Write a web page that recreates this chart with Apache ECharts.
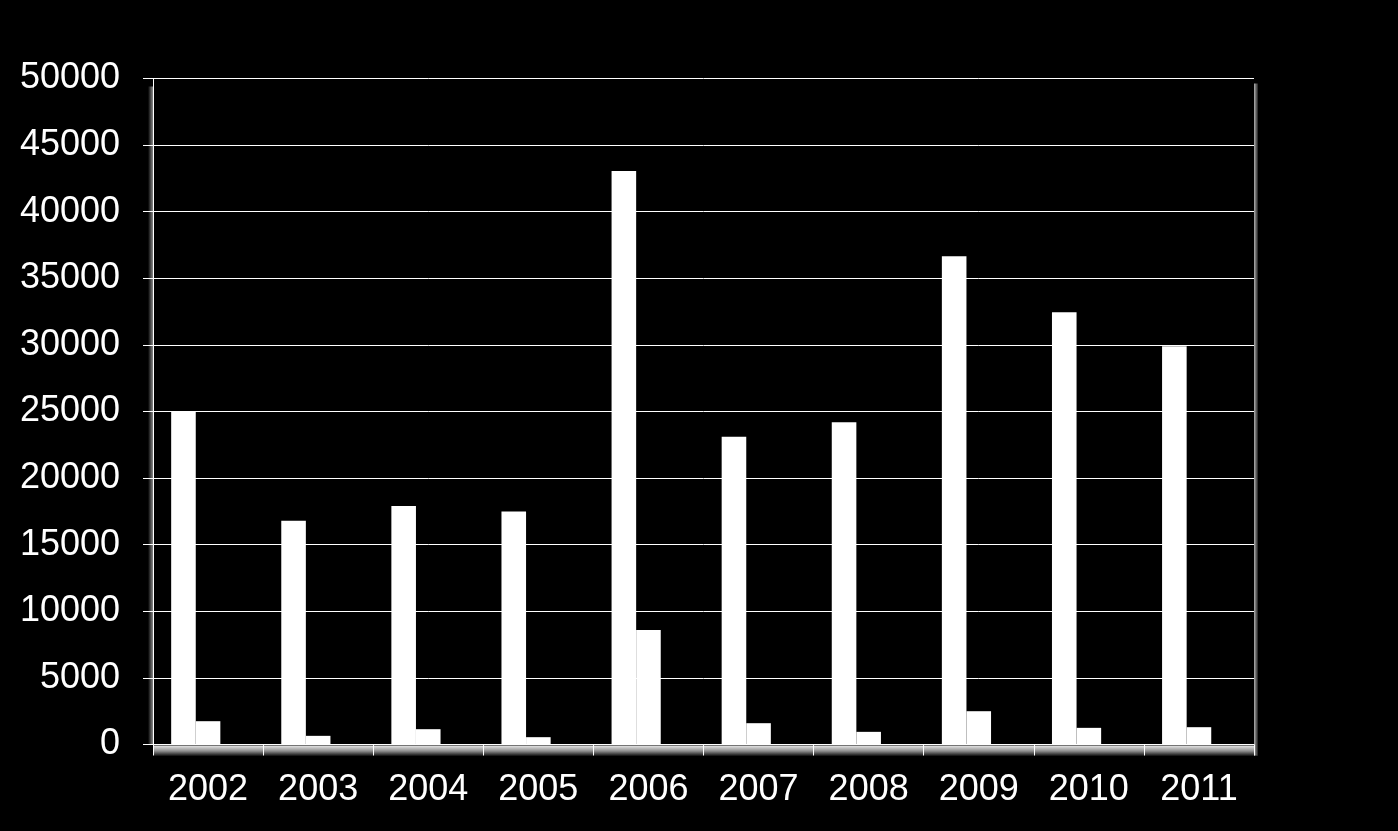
<!DOCTYPE html>
<html>
<head>
<meta charset="utf-8">
<script src="https://cdn.jsdelivr.net/npm/echarts@6/dist/echarts.min.js"></script>
<style>
html,body{margin:0;padding:0;background:#000;}
#chart{width:1398px;height:831px;}
</style>
</head>
<body>
<div id="chart"></div>
<script>
var categories = ['2002','2003','2004','2005','2006','2007','2008','2009','2010','2011'];
var seriesA = [25000, 16800, 17900, 17500, 43050, 23100, 24200, 36650, 32450, 29900];
var seriesB = [1750, 650, 1150, 550, 8600, 1600, 950, 2500, 1250, 1300];
var seriesC = [0, 0, 0, 0, 0, 0, 0, 0, 0, 0];
var yTicks = {min: 0, max: 50000, interval: 5000};

var G = {left: 153, right: 144, top: 78.5, bottom: 86.5};
var W = 1398, H = 831;
var gx0 = G.left, gx1 = W - G.right, gy0 = G.top, gy1 = H - G.bottom;

var chart = echarts.init(document.getElementById('chart'), null, {renderer: 'canvas'});
var font = '"Liberation Sans", Arial, sans-serif';

function barSeries(data) {
  return {
    type: 'bar',
    data: data,
    barGap: '0%',
    barCategoryGap: '33%',
    itemStyle: {color: '#ffffff', borderWidth: 0},
    silent: true,
    z: 3
  };
}

chart.setOption({
  backgroundColor: '#000000',
  animation: false,
  grid: {left: G.left, right: G.right, top: G.top, bottom: G.bottom, containLabel: false},
  xAxis: {
    type: 'category',
    data: categories,
    boundaryGap: true,
    axisLine: {show: true, lineStyle: {color: '#ffffff', width: 1}},
    axisTick: {show: true, length: 11, inside: false, lineStyle: {color: '#ffffff', width: 1}},
    axisLabel: {color: '#ffffff', fontSize: 36, fontFamily: font, margin: 28},
    splitLine: {show: false},
    z: 4
  },
  yAxis: {
    type: 'value',
    min: yTicks.min, max: yTicks.max, interval: yTicks.interval,
    axisLine: {show: true, lineStyle: {color: '#ffffff', width: 1}},
    axisTick: {show: true, length: 10, inside: false, lineStyle: {color: '#ffffff', width: 1}},
    axisLabel: {color: '#ffffff', fontSize: 36, fontFamily: font, margin: 33,
      formatter: function (v) { return String(v); }},
    splitLine: {show: true, lineStyle: {color: '#ffffff', width: 1}},
    z: 4
  },
  graphic: [
    {
      type: 'rect', z: 1, silent: true,
      shape: {x: gx0 + 1, y: gy1 + 1, width: gx1 - gx0 + 3, height: 11},
      style: {fill: new echarts.graphic.LinearGradient(0, 0, 0, 1, [
        {offset: 0, color: '#e8e8e8'}, {offset: 0.5, color: '#909090'}, {offset: 1, color: '#000000'}
      ])}
    },
    {
      type: 'rect', z: 1, silent: true,
      shape: {x: gx1, y: gy0 + 5, width: 4, height: gy1 - gy0 + 6},
      style: {fill: new echarts.graphic.LinearGradient(0, 0, 1, 0, [
        {offset: 0, color: '#b0b0b0'}, {offset: 1, color: '#202020'}
      ])}
    },
    {
      type: 'rect', z: 1, silent: true,
      shape: {x: gx0 - 5, y: gy0 + 8, width: 5, height: gy1 - gy0 - 8},
      style: {fill: new echarts.graphic.LinearGradient(0, 0, 1, 0, [
        {offset: 0, color: '#000000'}, {offset: 1, color: '#8a8a8a'}
      ])}
    }
  ],
  series: [barSeries(seriesA), barSeries(seriesB), barSeries(seriesC)]
});
</script>
</body>
</html>
